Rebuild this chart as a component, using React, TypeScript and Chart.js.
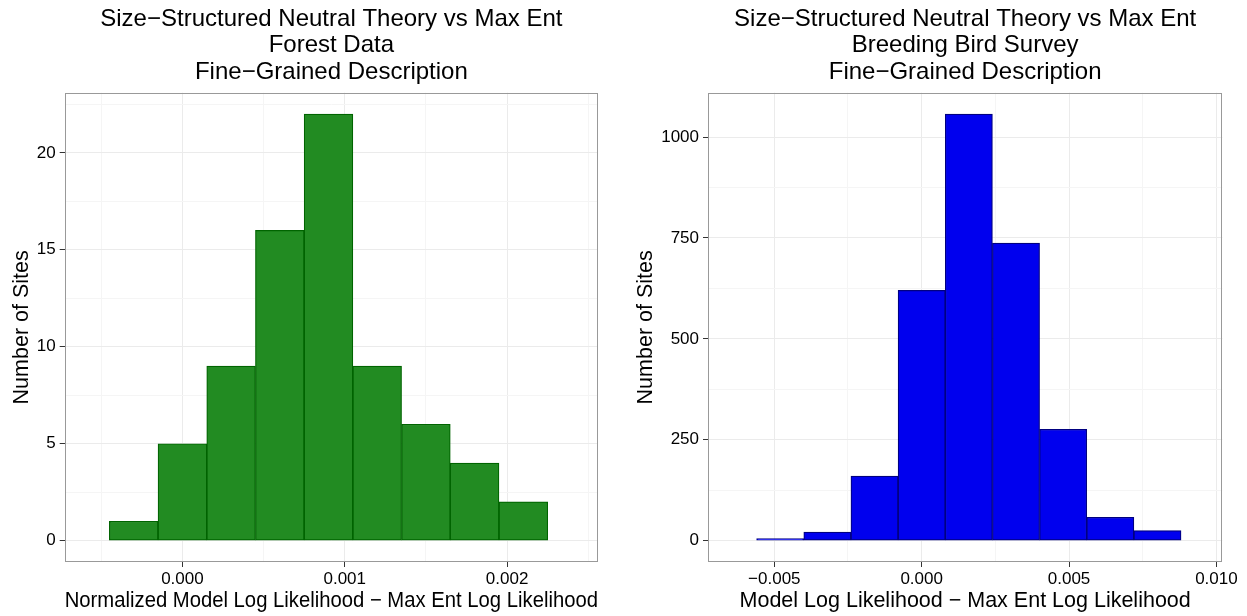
import React, { useEffect, useRef } from "react";
import { Chart, registerables } from "chart.js";

Chart.register(...registerables);

// ---------- Data ----------
const forestBinCenters = [-0.0003, 0, 0.0003, 0.0006, 0.0009, 0.0012, 0.0015, 0.0018, 0.0021];
const forestCounts = [1, 5, 9, 16, 22, 9, 6, 4, 2];

const birdBinCenters = [-0.0048, -0.0032, -0.0016, 0, 0.0016, 0.0032, 0.0048, 0.0064, 0.008];
const birdCounts = [5, 21, 160, 620, 1057, 737, 276, 58, 25];

const forestXTicks = [0, 0.001, 0.002];
const forestXTickLabels = ["0.000", "0.001", "0.002"];
const forestXMinor = [-0.0005, 0.0005, 0.0015, 0.0025];
const forestYTicks = [0, 5, 10, 15, 20];
const forestYTickLabels = ["0", "5", "10", "15", "20"];
const forestYMinor = [2.5, 7.5, 12.5, 17.5, 22.5];

const birdXTicks = [-0.005, 0, 0.005, 0.01];
const birdXTickLabels = ["\u22120.005", "0.000", "0.005", "0.010"];
const birdXMinor = [-0.0025, 0.0025, 0.0075];
const birdYTicks = [0, 250, 500, 750, 1000];
const birdYTickLabels = ["0", "250", "500", "750", "1000"];
const birdYMinor = [125, 375, 625, 875];

const forestTitle = [
  "Size\u2212Structured Neutral Theory vs Max Ent",
  "Forest Data",
  "Fine\u2212Grained Description",
];
const birdTitle = [
  "Size\u2212Structured Neutral Theory vs Max Ent",
  "Breeding Bird Survey",
  "Fine\u2212Grained Description",
];
const forestXTitle = "Normalized Model Log Likelihood \u2212 Max Ent Log Likelihood";
const birdXTitle = "Model Log Likelihood \u2212 Max Ent Log Likelihood";
const yTitle = "Number of Sites";

// ---------- Styles ----------
const FONT = "'Liberation Sans', Arial, Helvetica, sans-serif";
const MAJOR_GRID = "#EBEBEB";
const MINOR_GRID = "#F5F5F5";
const TICK_COLOR = "#333333";
const BORDER_COLOR = "#999999";

type HistProps = {
  width: number;
  centers: number[];
  counts: number[];
  fill: string;
  stroke: string;
  title: string[];
  xTitle: string;
  xMin: number;
  xMax: number;
  yMin: number;
  yMax: number;
  xTicks: number[];
  xTickLabels: string[];
  xMinor: number[];
  yTicks: number[];
  yTickLabels: string[];
  yMinor: number[];
  yAxisWidth: number;
  padRight: number;
  yTitlePad: number;
};

const panelBorder = {
  id: "panelBorder",
  afterDraw(chart: any) {
    const { ctx, chartArea } = chart;
    ctx.save();
    ctx.strokeStyle = BORDER_COLOR;
    ctx.lineWidth = 1;
    const l = Math.round(chartArea.left) + 0.5;
    const t = Math.round(chartArea.top) + 0.5;
    const r = Math.round(chartArea.right) - 0.5;
    const b = Math.round(chartArea.bottom) - 0.5;
    ctx.strokeRect(l, t, r - l, b - t);
    ctx.restore();
  },
};

function buildTicks(major: number[], minor: number[]) {
  return [
    ...major.map((v) => ({ value: v })),
    ...minor.map((v) => ({ value: v, minor: true })),
  ].sort((a, b) => a.value - b.value);
}

function labelFor(major: number[], labels: string[]) {
  return (value: any) => {
    const i = major.findIndex((m) => Math.abs(m - Number(value)) < 1e-12);
    return i >= 0 ? labels[i] : "";
  };
}

function Histogram(p: HistProps) {
  const ref = useRef<HTMLCanvasElement>(null);
  useEffect(() => {
    const gridCfg = {
      color: (c: any) => (c.tick && c.tick.minor ? MINOR_GRID : MAJOR_GRID),
      tickColor: (c: any) => (c.tick && c.tick.minor ? "rgba(0,0,0,0)" : TICK_COLOR),
      lineWidth: 1,
      tickLength: 5,
      tickWidth: 1,
      drawTicks: true,
      drawOnChartArea: true,
      offset: false,
    };
    const chart = new Chart(ref.current as HTMLCanvasElement, {
      type: "bar",
      data: {
        datasets: [
          {
            data: p.centers.map((c, i) => ({ x: c, y: p.counts[i] })),
            backgroundColor: p.fill,
            borderColor: p.stroke,
            borderWidth: 1.2,
            borderSkipped: false,
            barPercentage: 1,
            categoryPercentage: 1,
          } as any,
        ],
      },
      options: {
        responsive: false,
        animation: false,
        devicePixelRatio: 1,
        layout: { padding: { left: 0, right: p.padRight, top: 0, bottom: 0 } },
        plugins: {
          legend: { display: false },
          tooltip: { enabled: false },
          title: {
            display: true,
            text: p.title,
            fullSize: false,
            color: "#000",
            font: { family: FONT, size: 24, weight: "normal", lineHeight: 1.1 },
            padding: { top: 6, bottom: 7.5 },
          },
        },
        scales: {
          x: {
            type: "linear",
            min: p.xMin,
            max: p.xMax,
            offset: false,
            afterBuildTicks: (s: any) => {
              s.ticks = buildTicks(p.xTicks, p.xMinor);
            },
            afterFit: (s: any) => {
              s.height = 54;
            },
            ticks: {
              autoSkip: false,
              maxRotation: 0,
              minRotation: 0,
              padding: 2,
              color: "#000",
              font: { family: FONT, size: 17 },
              callback: labelFor(p.xTicks, p.xTickLabels),
            },
            grid: gridCfg as any,
            border: { display: false },
            title: {
              display: true,
              text: p.xTitle,
              color: "#000",
              font: { family: FONT, size: 21.5 },
              padding: { top: 0, bottom: 2 },
            },
          },
          y: {
            type: "linear",
            min: p.yMin,
            max: p.yMax,
            afterBuildTicks: (s: any) => {
              s.ticks = buildTicks(p.yTicks, p.yMinor);
            },
            afterFit: (s: any) => {
              s.width = p.yAxisWidth;
            },
            ticks: {
              autoSkip: false,
              padding: 4,
              color: "#000",
              font: { family: FONT, size: 17 },
              callback: labelFor(p.yTicks, p.yTickLabels),
            },
            grid: gridCfg as any,
            border: { display: false },
            title: {
              display: true,
              text: yTitle,
              color: "#000",
              font: { family: FONT, size: 21.5 },
              padding: { top: p.yTitlePad, bottom: 0 },
            },
          },
        },
      } as any,
      plugins: [panelBorder],
    });
    return () => chart.destroy();
  }, []);
  return (
    <canvas
      ref={ref}
      width={p.width}
      height={616}
      style={{ width: p.width, height: 616, display: "block" }}
    />
  );
}

export default function App() {
  return (
    <div
      style={{
        position: "absolute",
        left: 0,
        top: 0,
        width: 1247,
        height: 616,
        display: "flex",
        background: "#fff",
      }}
    >
      <Histogram
        width={623}
        centers={forestBinCenters}
        counts={forestCounts}
        fill="#228B22"
        stroke="#006400"
        title={forestTitle}
        xTitle={forestXTitle}
        xMin={-0.000725}
        xMax={0.00256}
        yMin={-1.1}
        yMax={23.1}
        xTicks={forestXTicks}
        xTickLabels={forestXTickLabels}
        xMinor={forestXMinor}
        yTicks={forestYTicks}
        yTickLabels={forestYTickLabels}
        yMinor={forestYMinor}
        yAxisWidth={64.7}
        padRight={25}
        yTitlePad={9.2}
      />
      <Histogram
        width={624}
        centers={birdBinCenters}
        counts={birdCounts}
        fill="#0000EE"
        stroke="#000080"
        title={birdTitle}
        xTitle={birdXTitle}
        xMin={-0.00725}
        xMax={0.0102}
        yMin={-52.85}
        yMax={1109.85}
        xTicks={birdXTicks}
        xTickLabels={birdXTickLabels}
        xMinor={birdXMinor}
        yTicks={birdYTicks}
        yTickLabels={birdYTickLabels}
        yMinor={birdYMinor}
        yAxisWidth={85}
        padRight={24.7}
        yTitlePad={10.2}
      />
    </div>
  );
}
